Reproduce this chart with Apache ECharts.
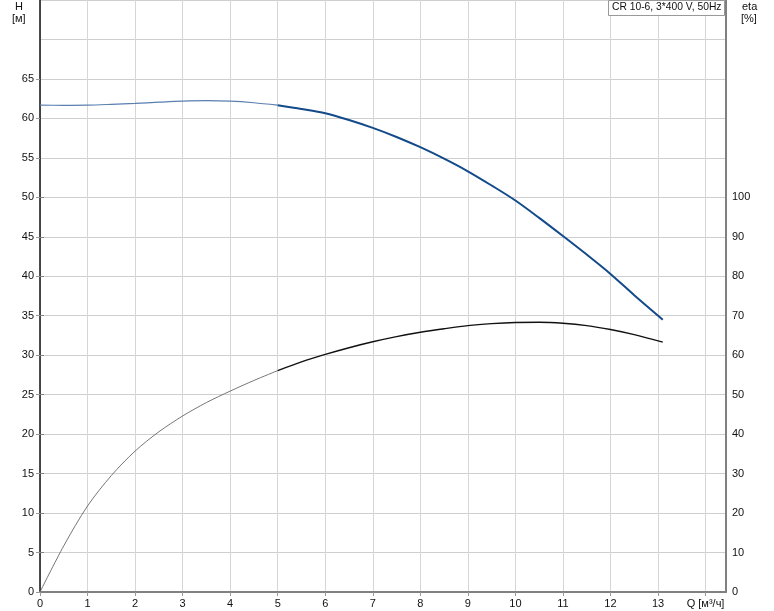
<!DOCTYPE html>
<html><head><meta charset="utf-8">
<script src="https://cdn.jsdelivr.net/npm/echarts@6/dist/echarts.min.js"></script>
<style>html,body{margin:0;padding:0;background:#fff}#c{width:774px;height:611px}</style>
</head><body><div id="c"></div>
<script>
// Pump curve data
const qLow = [0, 0.5, 1, 1.5, 2, 2.5, 3, 3.5, 4, 4.5, 5];
const hLow = [61.67, 61.66, 61.68, 61.78, 61.9, 62.05, 62.18, 62.24, 62.18, 61.98, 61.67];
const etaLow = [0, 11.7, 21.8, 29.5, 35.7, 40.6, 44.6, 48.0, 50.9, 53.6, 56.1];
const qHigh = [5, 5.5, 6, 6.5, 7, 7.5, 8, 8.5, 9, 9.5, 10, 10.5, 11, 11.5, 12, 12.5, 13.1];
const hHigh = [61.67, 61.2, 60.66, 59.8, 58.8, 57.65, 56.35, 54.9, 53.3, 51.5, 49.6, 47.4, 45.1, 42.75, 40.3, 37.6, 34.5];
const etaHigh = [56.1, 58.3, 60.2, 61.9, 63.4, 64.7, 65.8, 66.7, 67.5, 68.0, 68.3, 68.35, 68.1, 67.5, 66.5, 65.2, 63.3];
const xTicks = [0,1,2,3,4,5,6,7,8,9,10,11,12,13];
const xUnitLabel = 'Q [м³/ч]';
const title = 'CR 10-6, 3*400 V, 50Hz';

const pairs = (xs, ys) => xs.map((x, i) => [x, ys[i]]);
const font = 'Liberation Sans, Arial, sans-serif';
const G = {left: 40, right: 48, bottom: 19};
const hiddenX = gi => ({type: 'value', gridIndex: gi, min: 0, max: 14.43, show: false});
const chart = echarts.init(document.getElementById('c'), null, {renderer: 'canvas'});
chart.setOption({
  animation: false,
  textStyle: {fontFamily: font},
  grid: [
    Object.assign({top: 0}, G),
    Object.assign({top: 592 - 65 * 592 / 75}, G),
    Object.assign({top: 592 - 100 * 592 / 150}, G)
  ],
  xAxis: [{
    type: 'value', gridIndex: 0, min: 0, max: 14.43, interval: 1,
    axisLine: {show: true, onZero: false, lineStyle: {color: '#808080', width: 2}},
    axisTick: {show: true, length: 4, lineStyle: {color: '#999'}},
    axisLabel: {color: '#111', fontSize: 11, fontFamily: font, margin: 6, showMaxLabel: false,
      formatter: v => (xTicks.indexOf(v) >= 0 ? String(v) : (v === 14 ? xUnitLabel : ''))},
    splitLine: {show: true, lineStyle: {color: '#d6d6d6', width: 1}}
  }, hiddenX(1), hiddenX(2)],
  yAxis: [{
    type: 'value', gridIndex: 0, min: 0, max: 75, interval: 5, position: 'left',
    axisLine: {show: true, lineStyle: {color: '#111', width: 1.5}},
    axisTick: {show: false}, axisLabel: {show: false},
    splitLine: {show: true, lineStyle: {color: '#cfcfcf', width: 1}}
  }, {
    type: 'value', gridIndex: 0, min: 0, max: 150, interval: 10, position: 'right',
    axisLine: {show: true, lineStyle: {color: '#808080', width: 2}},
    axisTick: {show: false}, axisLabel: {show: false}, splitLine: {show: false}
  }, {
    type: 'value', gridIndex: 1, min: 0, max: 65, interval: 5, position: 'left',
    axisLine: {show: false},
    axisTick: {show: true, length: 4, lineStyle: {color: '#999'}},
    axisLabel: {color: '#111', fontSize: 11, fontFamily: font, margin: 6},
    splitLine: {show: false}
  }, {
    type: 'value', gridIndex: 2, min: 0, max: 100, interval: 10, position: 'right',
    axisLine: {show: false},
    axisTick: {show: true, length: 4, lineStyle: {color: '#808080'}},
    axisLabel: {color: '#111', fontSize: 11, fontFamily: font, margin: 6},
    splitLine: {show: false}
  }],
  series: [
    {type: 'line', xAxisIndex: 0, yAxisIndex: 0, data: pairs(qLow, hLow), smooth: 0.3, symbol: 'none',
      lineStyle: {color: '#5a7fb0', width: 1.2}},
    {type: 'line', xAxisIndex: 0, yAxisIndex: 0, data: pairs(qHigh, hHigh), smooth: 0.3, symbol: 'none',
      lineStyle: {color: '#134a8a', width: 2}},
    {type: 'line', xAxisIndex: 0, yAxisIndex: 1, data: pairs(qLow, etaLow), smooth: 0.3, symbol: 'none',
      lineStyle: {color: '#666', width: 0.9}},
    {type: 'line', xAxisIndex: 0, yAxisIndex: 1, data: pairs(qHigh, etaHigh), smooth: 0.3, symbol: 'none',
      lineStyle: {color: '#111', width: 1.4}}
  ],
  graphic: [
    {type: 'text', left: 15, top: 1, style: {text: 'H', font: '11px ' + font, fill: '#111'}},
    {type: 'text', left: 12, top: 13, style: {text: '[м]', font: '11px ' + font, fill: '#111'}},
    {type: 'text', left: 742, top: 1, style: {text: 'eta', font: '11px ' + font, fill: '#111'}},
    {type: 'text', left: 741, top: 13, style: {text: '[%]', font: '11px ' + font, fill: '#111'}},
    {type: 'rect', shape: {x: 608.5, y: 0.5, width: 116, height: 15},
      style: {fill: '#fff', stroke: '#999', lineWidth: 1}, z: 100},
    {type: 'text', x: 612, y: 2, z: 101, style: {text: title, font: '10.3px ' + font, fill: '#111'}}
  ]
});
</script></body></html>
